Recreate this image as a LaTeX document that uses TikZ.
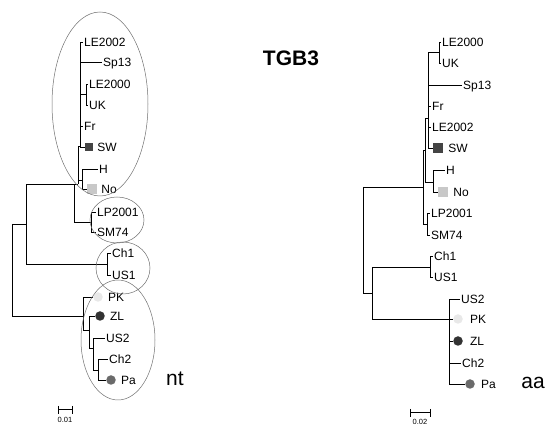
\documentclass[tikz,border=0pt]{standalone}
\usepackage{fontspec}
\setmainfont{Liberation Sans}
\usepackage{xcolor}
\usepackage{tikz}
\usetikzlibrary{positioning}
\definecolor{ink}{HTML}{000000}
\definecolor{ring}{HTML}{6E6E6E}
\definecolor{swbox}{HTML}{444444}
\definecolor{nobox}{HTML}{C8C8C8}
\definecolor{pkdot}{HTML}{E8E8E8}
\definecolor{zldot}{HTML}{333333}
\definecolor{padot}{HTML}{6A6A6A}

\begin{document}
\begin{tikzpicture}[x=1pt,y=-1pt,
  tip/.style={anchor=west,inner sep=1pt,text height=8.5pt,text depth=0pt,font=\fontsize{12}{13}\selectfont},
  br/.style={draw=ink,line width=0.7pt},
  clade/.style={draw=ring,line width=0.5pt},
  sq/.style={rectangle,minimum size=#1,inner sep=0pt},
  dot/.style={circle,minimum size=9.5pt,inner sep=0pt},
  bar/.style={draw=ink,line width=1pt},
  big/.style={font=\fontsize{21}{24}\selectfont}]
\useasboundingbox (0,0) rectangle (547,427);

% nt tree
\coordinate (l0) at (12,224);
\coordinate (lA) at (26,224);
\coordinate (lB) at (74,184);
\coordinate (lC) at (78,184);
\coordinate (lE) at (80,146);
\coordinate (lF) at (86,94);
\coordinate (lH) at (82,180);
\coordinate (lP) at (91,222);
\coordinate (lQ) at (107,264);
\coordinate (lD) at (83,316);
\coordinate (lG) at (89,330);
\coordinate (lK) at (93,348);
\coordinate (lM) at (98,370);

\node[tip] (lLE02) at (83,42) {LE2002};
\node[tip] (lSp) at (102,62) {Sp13};
\node[tip] (lLE00) at (88,84) {LE2000};
\node[tip] (lUK) at (88,105) {UK};
\node[tip] (lFr) at (83,126) {Fr};
\node[sq=8pt,fill=swbox] (lSWm) at (89,147) {};
\node[tip,right=3pt of lSWm] (lSW) {SW};
\node[tip] (lHt) at (98,169) {H};
\node[sq=10pt,fill=nobox] (lNom) at (92,189) {};
\node[tip,right=3pt of lNom] (lNo) {No};
\node[tip] (lLP) at (96,212) {LP2001};
\node[tip] (lSM) at (96,232) {SM74};
\node[tip] (lCh1) at (111,253) {Ch1};
\node[tip] (lUS1) at (111,275) {US1};
\node[dot,fill=pkdot] (lPKm) at (98,297) {};
\node[tip,right=4pt of lPKm] (lPK) {PK};
\node[dot,fill=zldot] (lZLm) at (100,316) {};
\node[tip,right=4pt of lZLm] (lZL) {ZL};
\node[tip] (lUS2) at (105,338) {US2};
\node[tip] (lCh2) at (108,359) {Ch2};
\node[dot,fill=padot] (lPam) at (111,380) {};
\node[tip,right=4pt of lPam] (lPa) {Pa};

\draw[br] (l0) |- (lA) (l0) |- (lD);
\draw[br] (lA) |- (lB) (lA) |- (lQ);
\draw[br] (lB) |- (lC) (lB) |- (lP);
\draw[br] (lC) |- (lE) (lC) |- (lH);
\draw[br] (lE) |- (lLE02.west) (lE) |- (lSp.west) (lE) |- (lF)
  (lE) |- (lFr.west) (lE) |- (lSWm.west);
\draw[br] (lF) |- (lLE00.west) (lF) |- (lUK.west);
\draw[br] (lH) |- (lHt.west) (lH) |- (lNom.west);
\draw[br] (lP) |- (lLP.west) (lP) |- (lSM.west);
\draw[br] (lQ) |- (lCh1.west) (lQ) |- (lUS1.west);
\draw[br] (lD) |- (lPKm.west) (lD) |- (lG);
\draw[br] (lG) |- (lZLm.west) (lG) |- (lK);
\draw[br] (lK) |- (lUS2.west) (lK) |- (lM);
\draw[br] (lM) |- (lCh2.west) (lM) |- (lPam.west);

% groups
\draw[clade] (100,104) ellipse [x radius=48pt, y radius=92pt];
\draw[clade] (117,220) ellipse [x radius=27pt, y radius=23pt];
\draw[clade] (123,268) ellipse [x radius=27pt, y radius=26pt];
\draw[clade] (118,340) ellipse [x radius=37pt, y radius=60pt];

% aa tree
\coordinate (r0) at (363,187);
\coordinate (rP) at (423,187);
\coordinate (rP1) at (425,150);
\coordinate (rP2) at (428,118);
\coordinate (rU) at (439,52);
\coordinate (rH) at (433,182);
\coordinate (rL) at (427,224);
\coordinate (rQ) at (372,293);
\coordinate (rC) at (430,267);
\coordinate (rD) at (449,319);

\node[tip] (rLE00) at (441,42) {LE2000};
\node[tip] (rUK) at (441,63) {UK};
\node[tip] (rSp) at (462,85) {Sp13};
\node[tip] (rFr) at (431,106) {Fr};
\node[tip] (rLE02) at (431,127) {LE2002};
\node[sq=10pt,fill=swbox] (rSWm) at (438,148) {};
\node[tip,right=4pt of rSWm] (rSW) {SW};
\node[tip] (rHt) at (445,170) {H};
\node[sq=10pt,fill=nobox] (rNom) at (443,192) {};
\node[tip,right=4pt of rNom] (rNo) {No};
\node[tip] (rLP) at (430,213) {LP2001};
\node[tip] (rSM) at (430,235) {SM74};
\node[tip] (rCh1) at (433,256) {Ch1};
\node[tip] (rUS1) at (433,277) {US1};
\node[tip] (rUS2) at (460,299) {US2};
\node[dot,fill=pkdot] (rPKm) at (458,319) {};
\node[tip,right=6pt of rPKm] (rPK) {PK};
\node[dot,fill=zldot] (rZLm) at (458,341) {};
\node[tip,right=6pt of rZLm] (rZL) {ZL};
\node[tip] (rCh2) at (461,363) {Ch2};
\node[dot,fill=padot] (rPam) at (470,384) {};
\node[tip,right=5pt of rPam] (rPa) {Pa};

\draw[br] (r0) |- (rP) (r0) |- (rQ);
\draw[br] (rP) |- (rP1) (rP) |- (rL);
\draw[br] (rP1) |- (rP2) (rP1) |- (rH);
\draw[br] (rP2) |- (rU) (rP2) |- (rSp.west) (rP2) |- (rFr.west)
  (rP2) |- (rLE02.west) (rP2) |- (rSWm.west);
\draw[br] (rU) |- (rLE00.west) (rU) |- (rUK.west);
\draw[br] (rH) |- (rHt.west) (rH) |- (rNom.west);
\draw[br] (rL) |- (rLP.west) (rL) |- (rSM.west);
\draw[br] (rQ) |- (rC) (rQ) |- (rD);
\draw[br] (rC) |- (rCh1.west) (rC) |- (rUS1.west);
\draw[br] (rD) |- (rUS2.west) (rD) |- (rPKm.west) (rD) |- (rZLm.west)
  (rD) |- (rCh2.west) (rD) |- (rPam.west);

% titles
\node[big,font=\fontsize{21}{24}\selectfont\bfseries] (ttl) at (291,58) {TGB3};
\node[big] (nt) at (175,379) {nt};
\node[big] (aa) at (533,383) {aa};

% scale bars
\draw[bar] (58,406) -- (58,414) (72,406) -- (72,414) (58,410) -- (72,410);
\node[font=\fontsize{7.5}{8}\selectfont] (s1) at (65,420) {0.01};
\draw[bar] (410,409) -- (410,417) (430,409) -- (430,417) (410,413) -- (430,413);
\node[font=\fontsize{7.5}{8}\selectfont] (s2) at (420,422) {0.02};
\end{tikzpicture}
\end{document}
